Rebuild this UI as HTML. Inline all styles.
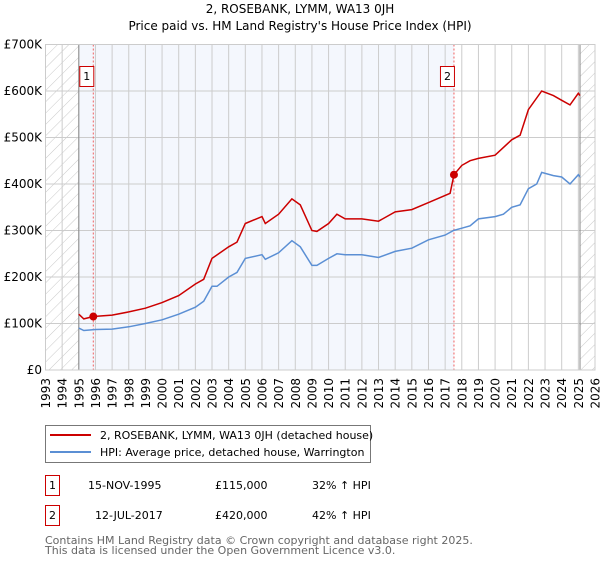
<!DOCTYPE html>
<html><head><meta charset="utf-8"><style>
body{margin:0;background:#fff;font-family:"DejaVu Sans","Liberation Sans",sans-serif;}
svg text{font-family:"DejaVu Sans","Liberation Sans",sans-serif;}
</style></head><body>
<svg id="c" width="600" height="560" xmlns="http://www.w3.org/2000/svg">
<defs><pattern id="hatch" width="8" height="8" patternUnits="userSpaceOnUse" patternTransform="rotate(45)"><line x1="0" y1="0" x2="0" y2="8" stroke="#bbb" stroke-width="0.8"/></pattern></defs>
<text x="300" y="13" text-anchor="middle" font-size="12" fill="#000">2, ROSEBANK, LYMM, WA13 0JH</text>
<text x="300" y="30" text-anchor="middle" font-size="12" fill="#000">Price paid vs. HM Land Registry's House Price Index (HPI)</text>
<g id="plot"></g>
<g>
<rect x="45.5" y="425.5" width="325" height="37" fill="#fff" stroke="#777"/>
<line x1="50" y1="435" x2="91" y2="435" stroke="#cc0000" stroke-width="2"/>
<text x="100" y="439" font-size="11">2, ROSEBANK, LYMM, WA13 0JH (detached house)</text>
<line x1="50" y1="452" x2="91" y2="452" stroke="#5b8fd4" stroke-width="2"/>
<text x="100" y="456" font-size="11">HPI: Average price, detached house, Warrington</text>
</g>
<g font-size="11">
<rect x="45.5" y="475.5" width="14" height="20" fill="#fff" stroke="#cc0000"/><text x="52.5" y="489" text-anchor="middle">1</text>
<text x="88" y="489">15-NOV-1995</text><text x="215" y="489">£115,000</text><text x="312" y="489">32% ↑ HPI</text>
<rect x="45.5" y="505.5" width="14" height="20" fill="#fff" stroke="#cc0000"/><text x="52.5" y="519" text-anchor="middle">2</text>
<text x="95" y="519">12-JUL-2017</text><text x="215" y="519">£420,000</text><text x="312" y="519">42% ↑ HPI</text>
</g>
<text x="45" y="544" font-size="11" fill="#666">Contains HM Land Registry data © Crown copyright and database right 2025.</text>
<text x="45" y="554" font-size="11" fill="#666">This data is licensed under the Open Government Licence v3.0.</text>
</svg>
<script>
const yearTicks=[1993,1994,1995,1996,1997,1998,1999,2000,2001,2002,2003,2004,2005,2006,2007,2008,2009,2010,2011,2012,2013,2014,2015,2016,2017,2018,2019,2020,2021,2022,2023,2024,2025,2026];
const valueTicks=[0,100,200,300,400,500,600,700];
const valueLabels=["£0","£100K","£200K","£300K","£400K","£500K","£600K","£700K"];
const hpiDates=[1995.0,1995.3,1996,1997,1998,1999,2000,2001,2002,2002.5,2003,2003.3,2004,2004.5,2005,2006,2006.2,2007,2007.8,2008.3,2009,2009.3,2010,2010.5,2011,2012,2013,2014,2015,2016,2017,2017.5,2018,2018.5,2019,2020,2020.5,2021,2021.5,2022,2022.5,2022.8,2023.5,2024,2024.5,2025,2025.1];
const hpiValues=[90,85,87,88,93,100,108,120,135,148,180,180,200,210,240,248,238,252,278,265,225,225,240,250,248,248,242,255,262,280,290,300,305,310,325,330,335,350,355,390,400,425,418,415,400,420,415];
const priceDates=[1995.0,1995.3,1995.87,1997,1998,1999,2000,2001,2002,2002.5,2003,2004,2004.5,2005,2006,2006.2,2007,2007.8,2008.3,2009,2009.3,2010,2010.5,2011,2012,2013,2014,2015,2016,2017.3,2017.53,2018,2018.5,2019,2020,2021,2021.5,2022,2022.8,2023.5,2024,2024.5,2025,2025.1];
const priceValues=[120,110,115,118,125,133,145,160,185,195,240,265,275,315,330,315,335,368,355,300,298,315,335,325,325,320,340,345,360,380,420,440,450,455,462,495,505,560,600,590,580,570,595,590];
const saleDates=[1995.87,2017.53];
const saleValues=[115,420];
const saleLabels=["1","2"];
const X0=45.5,X1=595,Y0=370,Y1=44.5;
const xs=y=>X0+(y-1993)/(2026-1993)*(X1-X0);
const ys=v=>Y0-v/700*(Y0-Y1);
const NS="http://www.w3.org/2000/svg";
const g=document.getElementById('plot');
function mk(t,a){const e=document.createElementNS(NS,t);for(const k in a)e.setAttribute(k,a[k]);g.appendChild(e);return e;}
let e;
e=mk('rect',{x:xs(1995),y:Y1,width:xs(2017.53)-xs(1995),height:Y0-Y1,fill:'#f4f7fd'});


e=mk('rect',{x:X0,y:Y1,width:xs(1995)-X0,height:Y0-Y1,fill:'url(#hatch)'});


e=mk('rect',{x:xs(2025.1),y:Y1,width:X1-xs(2025.1),height:Y0-Y1,fill:'url(#hatch)'});


yearTicks.forEach(yr=>{
 e=mk('line',{x1:xs(yr),x2:xs(yr),y1:Y1,y2:Y0,stroke:'#ccc'});
 
 
 const x=xs(yr)+4.5;
 e=mk('text',{x:x,y:378,'font-size':12,'text-anchor':'end',transform:`rotate(-90 ${x} 378)`});
 e.textContent=yr;
 
 
});
valueTicks.forEach((v,i)=>{
 e=mk('line',{x1:X0,x2:X1,y1:ys(v),y2:ys(v),stroke:'#ccc'});
 
 
 e=mk('text',{x:42,y:ys(v)+4,'font-size':12,'text-anchor':'end'});
 e.textContent=valueLabels[i];
 
 
});
e=mk('line',{x1:xs(1995),x2:xs(1995),y1:Y1,y2:Y0,stroke:'#888'});


e=mk('line',{x1:xs(2025.1),x2:xs(2025.1),y1:Y1,y2:Y0,stroke:'#888'});


saleDates.forEach((d,i)=>{
 e=mk('line',{x1:xs(d),x2:xs(d),y1:Y1,y2:Y0,stroke:'#f06060','stroke-dasharray':'2,2'});
 
 
 e=mk('rect',{x:xs(d)-13.5,y:66.5,width:14,height:20,fill:'#fff',stroke:'#cc0000'});
 
 
 e=mk('text',{x:xs(d)-6.5,y:80,'font-size':11,'text-anchor':'middle'});
 e.textContent=saleLabels[i];
 
 
});
function path(ds,vs){return ds.map((d,i)=>(i?'L':'M')+xs(d).toFixed(1)+','+ys(vs[i]).toFixed(1)).join('');}
e=mk('path',{d:path(hpiDates,hpiValues),fill:'none',stroke:'#5b8fd4','stroke-width':1.5});


e=mk('path',{d:path(priceDates,priceValues),fill:'none',stroke:'#cc0000','stroke-width':1.5});


saleDates.forEach((d,i)=>{
 e=mk('circle',{cx:xs(d),cy:ys(saleValues[i]),r:4,fill:'#cc0000'});
 
 
});
e=mk('rect',{x:X0,y:Y1,width:X1-X0,height:Y0-Y1,fill:'none',stroke:'#ccc'});


</script>
</body></html>
